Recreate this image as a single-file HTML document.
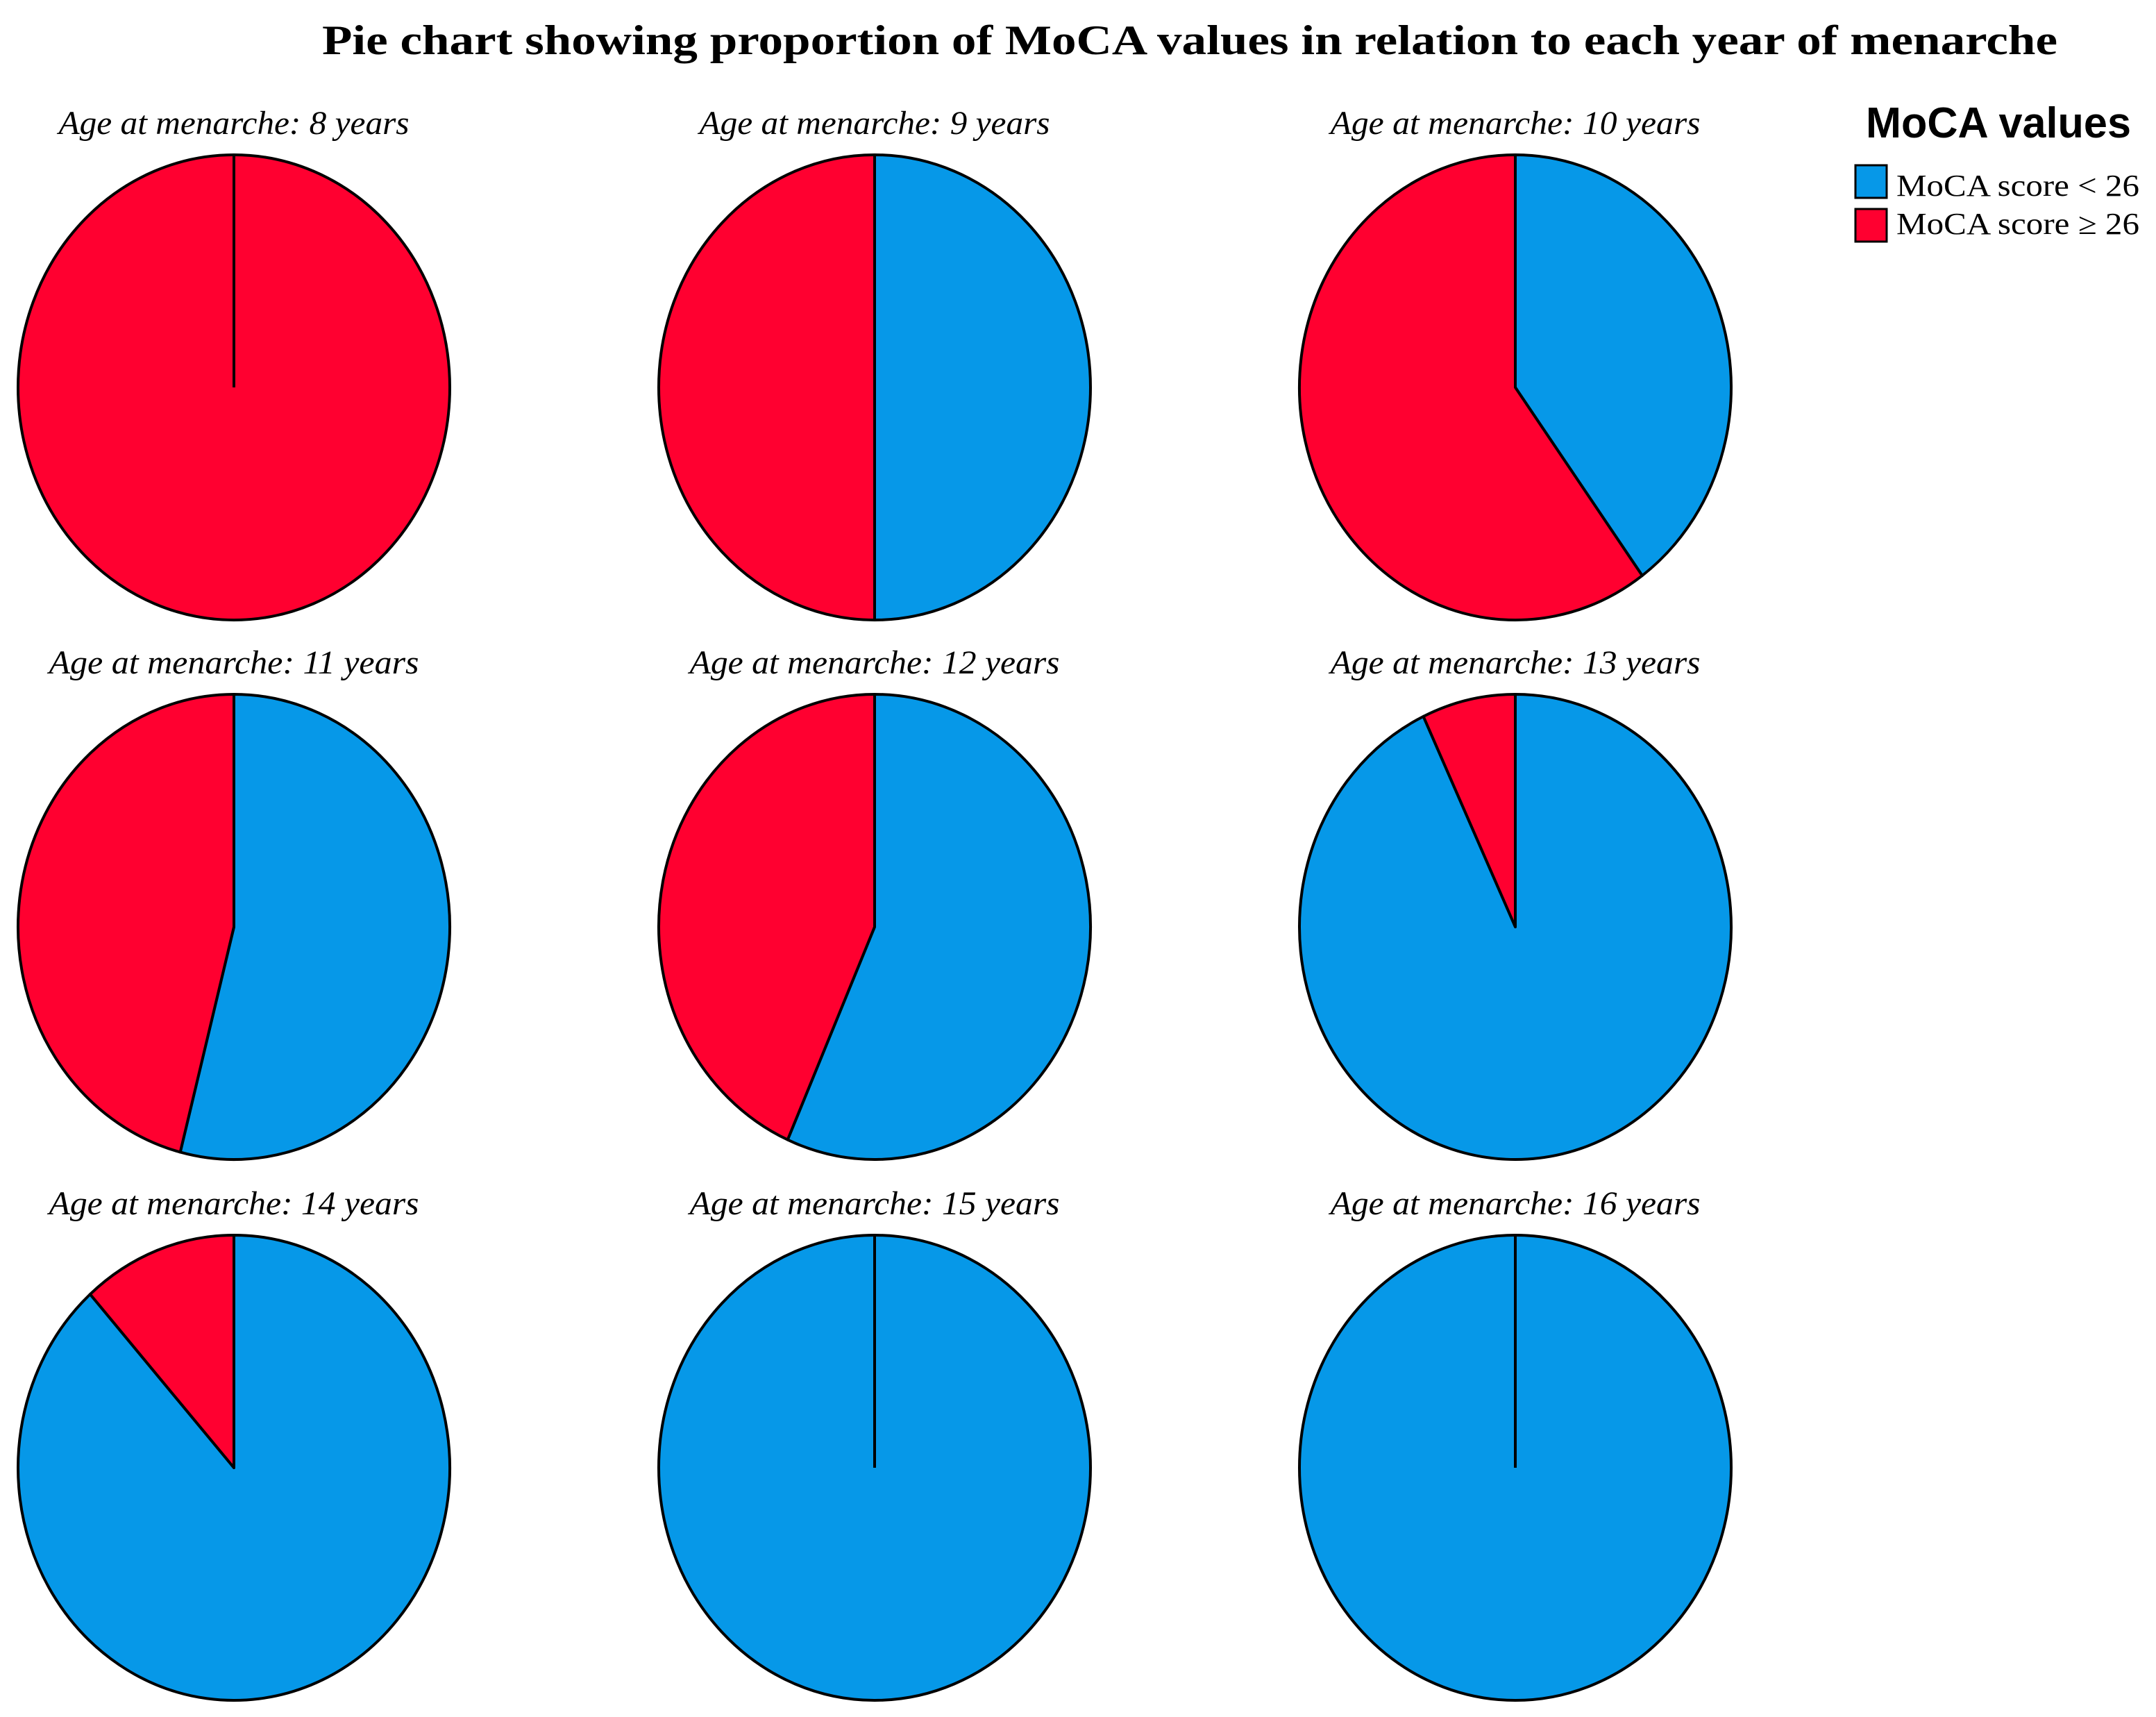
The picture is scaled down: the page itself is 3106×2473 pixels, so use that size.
<!DOCTYPE html>
<html><head><meta charset="utf-8"><style>
html,body{margin:0;padding:0;background:#fff;}
svg{display:block;}
</style></head><body>
<svg id="chart" width="3106" height="2473" viewBox="0 0 3106 2473" xmlns="http://www.w3.org/2000/svg">
<text x="1714" y="78" text-anchor="middle" font-family="Liberation Serif, serif" font-weight="bold" font-size="60" textLength="2500" lengthAdjust="spacingAndGlyphs">Pie chart showing proportion of MoCA values in relation to each year of menarche</text>
<g>
<text x="2688" y="198" font-family="Liberation Sans, sans-serif" font-weight="bold" font-size="62" textLength="382" lengthAdjust="spacingAndGlyphs">MoCA values</text>
<rect x="2673" y="238" width="45" height="47" fill="#0698E8" stroke="#000" stroke-width="3"/>
<text x="2732" y="282" font-family="Liberation Serif, serif" font-size="44" textLength="350" lengthAdjust="spacingAndGlyphs">MoCA score &lt; 26</text>
<rect x="2673" y="301" width="45" height="47" fill="#FF0030" stroke="#000" stroke-width="3"/>
<text x="2732" y="337" font-family="Liberation Serif, serif" font-size="44" textLength="350" lengthAdjust="spacingAndGlyphs">MoCA score ≥ 26</text>
</g>
<g id="pies"></g>
</svg>
<script>
const ages = [8, 9, 10, 11, 12, 13, 14, 15, 16];
const belowShare = [0, 0.5, 0.40, 0.54, 0.566, 0.93, 0.884, 1, 1];
const seriesNames = ['below-26', '26-or-more'];

const colX = [337, 1260, 2183], rowY = [558, 1335, 2114];
const rx = 311, ry = 335;
const NS = 'http://www.w3.org/2000/svg';
const g = document.getElementById('pies');
function pt(cx, cy, f) { const t = f * 2 * Math.PI; return [cx + rx * Math.sin(t), cy - ry * Math.cos(t)]; }
function slice(cx, cy, f0, f1) {
  const a = pt(cx, cy, f0), b = pt(cx, cy, f1);
  const large = (f1 - f0) > 0.5 ? 1 : 0;
  return `M${cx},${cy} L${a[0]},${a[1]} A${rx},${ry} 0 ${large} 1 ${b[0]},${b[1]} Z`;
}
ages.forEach((age, i) => {
  const cx = colX[i % 3], cy = rowY[Math.floor(i / 3)];
  const grp = document.createElementNS(NS, 'g');
  
  
  const lab = document.createElementNS(NS, 'text');
  
  
  lab.setAttribute('x', cx); lab.setAttribute('y', cy - ry - 30);
  lab.setAttribute('text-anchor', 'middle');
  lab.setAttribute('font-family', 'Liberation Serif, serif');
  lab.setAttribute('font-style', 'italic');
  lab.setAttribute('font-size', '48');
  lab.setAttribute('textLength', age < 10 ? '505' : '533');
  lab.setAttribute('lengthAdjust', 'spacingAndGlyphs');
  lab.textContent = 'Age at menarche: ' + age + ' years';
  grp.appendChild(lab);
  const b = belowShare[i];
  const parts = [[0, b, '#0698E8'], [b, 1, '#FF0030']];
  parts.forEach((p, k) => {
    const [f0, f1, col] = p;
    let el;
    if (f1 - f0 <= 0) return;
    if (f1 - f0 >= 0.9999) {
      el = document.createElementNS(NS, 'ellipse');
      el.setAttribute('cx', cx); el.setAttribute('cy', cy);
      el.setAttribute('rx', rx); el.setAttribute('ry', ry);
    } else {
      el = document.createElementNS(NS, 'path');
      el.setAttribute('d', slice(cx, cy, f0, f1));
    }
    
    
    el.setAttribute('fill', col);
    el.setAttribute('stroke', '#000');
    el.setAttribute('stroke-width', '4');
    el.setAttribute('stroke-linejoin', 'round');
    grp.appendChild(el);
  });
  if (b === 0 || b === 1) {
    const ln = document.createElementNS(NS, 'line');
    
    
    ln.setAttribute('x1', cx); ln.setAttribute('y1', cy);
    ln.setAttribute('x2', cx); ln.setAttribute('y2', cy - ry);
    ln.setAttribute('stroke', '#000'); ln.setAttribute('stroke-width', '4');
    grp.appendChild(ln);
  }
  g.appendChild(grp);
});
</script>
</body></html>
